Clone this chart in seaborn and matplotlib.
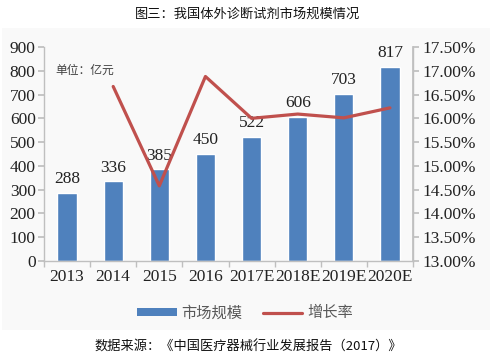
import numpy as np
import pandas as pd
import matplotlib
matplotlib.use("Agg")
import matplotlib.pyplot as plt
import seaborn as sns
from matplotlib.patches import Rectangle, Patch
from matplotlib.lines import Line2D
from matplotlib.ticker import FuncFormatter, MultipleLocator, FixedLocator

categories = ["2013", "2014", "2015", "2016", "2017E", "2018E", "2019E", "2020E"]
market_size = [288, 336, 385, 450, 522, 606, 703, 817]
growth_rate = [np.nan, 16.67, 14.58, 16.88, 16.00, 16.09, 16.01, 16.22]

sns.set_theme(style="white")
plt.rcParams['font.family'] = ['Liberation Serif', 'Noto Sans CJK SC', 'DejaVu Sans']
CJK = ['Noto Sans CJK SC', 'DejaVu Sans']

W, H = 503, 361
fig = plt.figure(figsize=(W / 100, H / 100), dpi=100)
fig.patch.set_facecolor('white')
fig.patches.append(Rectangle((2 / W, (H - 330) / H), 488 / W, 302 / H,
                             transform=fig.transFigure, facecolor='#f9f9f9',
                             edgecolor='none', zorder=-10))

ax = fig.add_axes([44 / W, (H - 261) / H, (413 - 44) / W, (261 - 47) / H])
ax.set_facecolor('none')

df = pd.DataFrame({"year": categories, "size": market_size, "growth": growth_rate})
df["pos"] = np.arange(len(categories))

bar_color = '#4F81BD'
line_color = '#C0504D'
sns.barplot(data=df, x="year", y="size", color=bar_color, width=0.42,
            saturation=1, ax=ax, zorder=2)
for c in ax.containers:
    ax.bar_label(c, labels=[str(v) for v in market_size], padding=4,
                 fontsize=12.5, color='#222222', family='Liberation Serif')

ax.set_ylim(0, 900)
ax.yaxis.set_major_locator(MultipleLocator(100))
ax.set_xlim(-0.5, len(categories) - 0.5)
ax.set_xlabel("")
ax.set_ylabel("")
ax.spines["top"].set_visible(False)
for s in ["left", "bottom", "right"]:
    ax.spines[s].set_color('#bfbfbf')
    ax.spines[s].set_linewidth(1)
ax.tick_params(axis='y', which='major', direction='out', length=4, color='#bfbfbf',
               labelsize=12.5, labelcolor='#222222', pad=2, left=True)
ax.tick_params(axis='x', which='major', length=0, labelsize=12.5,
               labelcolor='#222222', pad=6)
ax.xaxis.set_minor_locator(FixedLocator(np.arange(-0.5, len(categories), 1.0)))
ax.tick_params(axis='x', which='minor', direction='out', length=4,
               color='#bfbfbf', bottom=True)

ax2 = ax.twinx()
sns.lineplot(data=df.dropna(), x="pos", y="growth", color=line_color,
             linewidth=2.3, ax=ax2, zorder=3)
ax2.set_ylim(13.0, 17.5)
ax2.yaxis.set_major_locator(MultipleLocator(0.5))
ax2.yaxis.set_major_formatter(FuncFormatter(lambda v, p: f"{v:.2f}%"))
ax2.set_xlim(-0.5, len(categories) - 0.5)
ax2.set_xlabel("")
ax2.set_ylabel("")
ax2.spines["top"].set_visible(False)
ax2.spines["left"].set_visible(False)
ax2.spines["bottom"].set_visible(False)
ax2.spines["right"].set_color('#bfbfbf')
ax2.tick_params(axis='y', direction='out', length=4, color='#bfbfbf',
                labelsize=12.5, labelcolor='#222222', pad=3, right=True)

fig.text(55 / W, (H - 70) / H, "单位：亿元",
         fontsize=8.5, color='#404040', family=CJK, va='center', ha='left')

fig.text(248 / W, (H - 14) / H, "图三：我国体外诊断试剂市场规模情况",
         fontsize=9.5, color='#111111', family=CJK, ha='center', va='center')
fig.text(248 / W, (H - 347) / H, "数据来源：《中国医疗器械行业发展报告（2017）》",
         fontsize=9.5, color='#111111', family=CJK, ha='center', va='center')

handles = [Patch(facecolor=bar_color, edgecolor='none', label="市场规模"),
           Line2D([0], [0], color=line_color, linewidth=2.3, label="增长率")]
leg = fig.legend(handles=handles, loc='center', bbox_to_anchor=(245 / W, (H - 313) / H),
                 ncol=2, frameon=False, prop={'family': CJK, 'size': 11},
                 handlelength=2.6, handleheight=0.45, columnspacing=1.3,
                 handletextpad=0.3)
for t in leg.get_texts():
    t.set_color('#595959')

fig.savefig("out.png", dpi=100, facecolor='white')
